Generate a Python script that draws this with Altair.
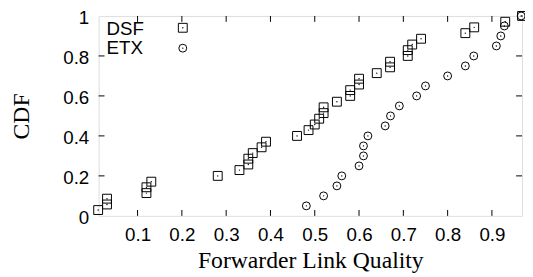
import altair as alt
import pandas as pd

# DSF series (Forwarder Link Quality, CDF)
dsf_x = [0.011, 0.031, 0.031, 0.12, 0.12, 0.131, 0.281, 0.33, 0.35, 0.35, 0.36, 0.38,
         0.39, 0.46, 0.486, 0.50, 0.51, 0.52, 0.52, 0.55, 0.58, 0.58, 0.60, 0.60, 0.64,
         0.67, 0.67, 0.71, 0.71, 0.72, 0.74, 0.84, 0.86, 0.93, 0.968]
dsf_y = [0.029, 0.057, 0.086, 0.114, 0.143, 0.171, 0.200, 0.229, 0.257, 0.286, 0.314,
         0.343, 0.371, 0.400, 0.429, 0.457, 0.486, 0.514, 0.543, 0.571, 0.600, 0.629,
         0.657, 0.686, 0.714, 0.743, 0.771, 0.800, 0.829, 0.857, 0.886, 0.914, 0.943,
         0.971, 1.000]

# ETX series
etx_x = [0.481, 0.52, 0.55, 0.561, 0.60, 0.61, 0.61, 0.62, 0.659, 0.671, 0.691, 0.73,
         0.75, 0.80, 0.84, 0.859, 0.91, 0.92, 0.928, 0.966]
etx_y = [0.05, 0.10, 0.15, 0.20, 0.25, 0.30, 0.35, 0.40, 0.45, 0.50, 0.55, 0.60, 0.65,
         0.70, 0.75, 0.80, 0.85, 0.90, 0.95, 1.00]

x_ticks = [0.1, 0.2, 0.3, 0.4, 0.5, 0.6, 0.7, 0.8, 0.9]
y_ticks = [0, 0.2, 0.4, 0.6, 0.8, 1]
y_inner_ticks = [0.2, 0.4, 0.6, 0.8]
legend_labels = ["DSF", "ETX"]

W, H = 430, 203
SANS = "Liberation Sans"
SERIF = "Liberation Serif"

dsf = pd.DataFrame({"x": dsf_x, "y": dsf_y})
etx = pd.DataFrame({"x": etx_x, "y": etx_y})
xt = pd.DataFrame({"x": x_ticks})
yt = pd.DataFrame({"y": y_inner_ticks})

X = alt.X("x:Q",
          scale=alt.Scale(domain=[0.012, 0.968], nice=False, zero=False),
          axis=alt.Axis(values=x_ticks, format="~g", title="Forwarder Link Quality",
                        labelFont=SANS, labelFontSize=19, labelPadding=10,
                        labelColor="black", titleFont=SERIF, titleFontSize=24,
                        titleFontWeight="normal", titleColor="black", titlePadding=4,
                        ticks=False, domain=False, grid=False, labelFlush=False))
Y = alt.Y("y:Q",
          scale=alt.Scale(domain=[0, 1], nice=False, zero=False),
          axis=alt.Axis(values=y_ticks, format="~g", title="CDF",
                        labelFont=SANS, labelFontSize=19, labelPadding=10,
                        labelOffset=1.5,
                        labelColor="black", titleFont=SERIF, titleFontSize=24,
                        titleFontWeight="normal", titleColor="black", titlePadding=30,
                        ticks=False, domain=False, grid=False, labelFlush=False))

sq = alt.Chart(dsf).mark_point(shape="square", size=81, filled=False, color="black",
                               strokeWidth=1, opacity=1, clip=False).encode(x=X, y=Y)
sq_dot = alt.Chart(dsf).mark_point(shape="circle", size=2, filled=True, color="black",
                                   opacity=1).encode(x=X, y=Y)
ci = alt.Chart(etx).mark_point(shape="circle", size=64, filled=False, color="black",
                               strokeWidth=1, opacity=1, clip=False).encode(x=X, y=Y)
ci_dot = alt.Chart(etx).mark_point(shape="circle", size=2, filled=True, color="black",
                                   opacity=1).encode(x=X, y=Y)

tick_b = alt.Chart(xt).mark_rule(color="black", strokeWidth=1).encode(
    x=X, y=alt.value(H), y2=alt.value(H - 6))
tick_t = alt.Chart(xt).mark_rule(color="black", strokeWidth=1).encode(
    x=X, y=alt.value(0), y2=alt.value(6))
tick_l = alt.Chart(yt).mark_rule(color="black", strokeWidth=1).encode(
    y=Y, x=alt.value(0), x2=alt.value(6))
tick_r = alt.Chart(yt).mark_rule(color="black", strokeWidth=1).encode(
    y=Y, x=alt.value(W), x2=alt.value(W - 6))

leg_df = pd.DataFrame({"label": legend_labels})
leg_layers = []
for i, lab in enumerate(legend_labels):
    d = leg_df[leg_df["label"] == lab]
    ty = 19.3 + i * 19.4
    sy = 12 + i * 20.7
    leg_layers.append(alt.Chart(d).mark_text(font=SANS, fontSize=19, align="left",
                                             baseline="alphabetic", color="black").encode(
        text="label:N", x=alt.value(8), y=alt.value(ty)))
    shape = "square" if i == 0 else "circle"
    size = 81 if i == 0 else 64
    leg_layers.append(alt.Chart(d).mark_point(shape=shape, size=size, filled=False,
                                              color="black", strokeWidth=1, opacity=1).encode(
        x=alt.value(85.5), y=alt.value(sy)))
    leg_layers.append(alt.Chart(d).mark_point(shape="circle", size=2, filled=True,
                                              color="black", opacity=1).encode(
        x=alt.value(85.5), y=alt.value(sy)))

chart = alt.layer(tick_b, tick_t, tick_l, tick_r, sq, sq_dot, ci, ci_dot, *leg_layers).properties(
    width=W, height=H,
    padding={"left": 92, "top": 6, "right": 3, "bottom": 60},
    autosize=alt.AutoSizeParams(type="none"),
).configure_view(stroke="black", strokeWidth=1.3).configure(background="white")

chart.save("out.html", embed_options={"renderer": "svg", "actions": False})
